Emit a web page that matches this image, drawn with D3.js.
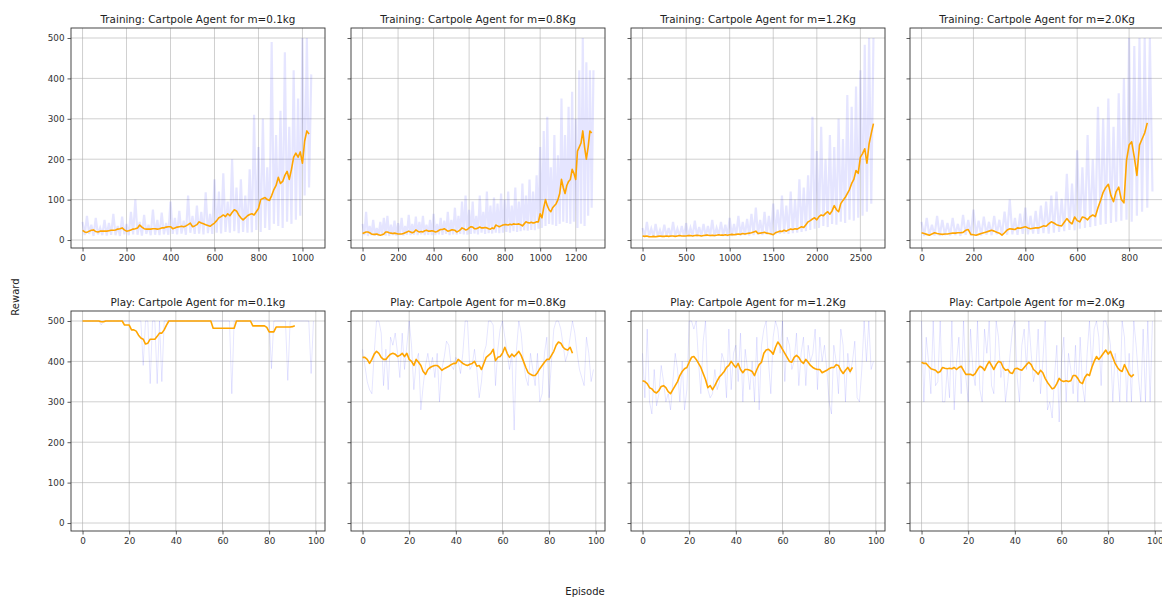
<!DOCTYPE html>
<html>
<head>
<meta charset="utf-8">
<script src="https://cdnjs.cloudflare.com/ajax/libs/d3/7.8.5/d3.min.js"></script>
<style>
  body { margin: 0; background: #fff; }
  svg { font-family: "DejaVu Sans", sans-serif; }
</style>
</head>
<body>
<div id="chart"></div>
<script>

// episode counts of every run (training) and play length
var trainEpisodes = [1050, 1300, 2650, 890];
var playEpisodes = 99;

// masses shown in the titles
var trainTitles = ["Training: Cartpole Agent for m=0.1kg", "Training: Cartpole Agent for m=0.8Kg",
                   "Training: Cartpole Agent for m=1.2Kg", "Training: Cartpole Agent for m=2.0Kg"];
var playTitles = ["Play: Cartpole Agent for m=0.1kg", "Play: Cartpole Agent for m=0.8Kg",
                  "Play: Cartpole Agent for m=1.2Kg", "Play: Cartpole Agent for m=2.0Kg"];

// x ticks
var trainTicks = [[0, 200, 400, 600, 800, 1000], [0, 200, 400, 600, 800, 1000, 1200],
                  [0, 500, 1000, 1500, 2000, 2500], [0, 200, 400, 600, 800]];
var playTicks = [0, 20, 40, 60, 80, 100];
var rewardTicks = [0, 100, 200, 300, 400, 500];

// episode spacing of the sampled values
var trainRawStep = [10, 10, 25, 10];
var trainAvgStep = [10, 10, 25, 10];

// training: raw rewards (sampled) and moving average
var trainRaw1 = [45,12,60,15,38,10,55,14,30,12,50,11,42,13,65,12,35,10,58,14,
  40,12,70,14,100,13,45,11,62,15,38,12,75,13,50,12,68,14,42,13,
  95,15,55,14,72,16,48,13,110,18,60,15,85,16,70,14,118,17,65,15,
  150,18,120,16,165,20,95,18,200,22,130,17,150,20,110,18,175,19,310,25,
  230,20,300,30,180,25,490,40,260,35,320,30,465,45,280,40,420,50,350,60,
  500,110,500,130,410];
var trainAvg1 = [24,20,19,22,24,25,21,20,22,22,
  22,22,23,24,24,25,27,28,30,25,
  22,23,25,27,28,30,37,32,28,27,
  27,27,28,28,27,28,30,30,32,33,
  33,28,30,32,33,34,33,35,38,42,
  33,35,38,45,42,40,38,36,34,38,
  42,48,55,58,62,58,65,60,68,75,
  72,62,55,50,55,60,63,65,62,70,
  78,100,103,105,100,98,110,125,135,155,
  140,145,160,170,150,175,205,215,205,218,
  190,245,270,262];

var trainRaw2 = [40,12,70,10,35,12,50,11,30,10,45,12,55,11,60,10,38,12,48,11,
  42,12,55,11,35,13,62,12,40,13,58,12,45,14,60,12,38,13,50,12,
  65,12,40,14,55,13,48,15,70,12,50,14,80,13,60,15,95,14,110,13,
  75,15,95,16,60,14,110,18,70,15,120,17,85,16,105,18,90,17,115,18,
  100,20,120,18,85,22,130,20,95,22,140,24,110,23,150,25,120,24,160,28,
  230,30,270,35,305,40,180,38,260,35,210,40,350,45,260,42,330,40,367,45,
  300,30,420,40,500,35,440,60,420,80,420];
var trainAvg2 = [16,18,20,20,18,15,14,14,15,13,
  12,13,15,20,20,18,17,16,17,16,
  15,15,15,16,18,20,22,20,18,20,
  25,22,20,21,20,23,24,22,22,23,
  22,20,21,24,26,26,28,25,22,23,
  25,25,24,20,22,25,30,28,25,26,
  30,33,32,28,28,30,32,30,30,31,
  30,28,27,30,28,37,35,33,35,37,
  38,38,37,39,38,40,39,39,40,38,
  35,40,45,43,42,44,42,43,45,45,
  65,55,80,100,85,75,70,80,85,90,
  100,115,150,130,115,135,145,150,175,165,
  150,220,230,240,270,230,200,230,270,265];

var trainRaw3 = [30,8,45,9,28,8,40,9,25,8,
  38,9,30,8,45,10,28,9,35,8,
  42,9,30,10,48,9,32,10,40,9,
  35,10,50,9,30,11,45,10,38,9,
  55,10,40,12,60,11,45,12,52,11,
  65,12,80,13,50,12,70,14,60,12,
  90,14,75,15,110,16,85,15,120,17,
  100,18,150,20,130,22,160,25,305,28,
  220,30,280,35,200,32,260,40,230,38,
  300,45,250,42,359,50,330,48,380,55,
  420,60,483,70,500,90,500];
var trainAvg3 = [10,9,10,8,8,9,8,9,10,9,
  9,10,9,10,10,9,10,11,10,10,
  10,11,11,10,11,12,11,10,11,12,
  12,11,12,11,12,13,12,12,13,12,
  13,14,13,14,15,14,16,15,16,17,
  18,20,22,16,17,18,19,17,16,15,
  13,18,20,22,21,24,22,25,27,26,
  28,27,30,33,31,38,45,48,52,55,
  50,58,62,60,66,70,64,72,85,75,
  70,90,98,105,115,125,140,150,172,165,
  205,214,226,190,238,264,288];

var trainRaw4 = [45,10,55,12,38,11,60,10,50,12,
  42,11,55,12,40,10,62,13,50,11,
  75,12,48,11,58,13,45,12,60,14,
  50,12,70,13,100,14,55,13,65,15,
  80,14,60,16,72,15,85,17,95,16,
  110,18,120,20,102,22,164,25,140,24,
  222,28,180,30,260,32,200,35,330,38,
  300,40,350,42,280,45,363,48,400,50,
  500,45,480,60,500,70,500,80,500,120];
var trainAvg4 = [18,16,14,12,15,18,16,15,14,15,
  15,16,17,17,18,18,19,24,26,14,
  13,12,14,16,18,20,22,24,22,19,
  17,12,18,25,28,27,26,30,29,31,
  33,30,28,29,30,30,32,35,34,40,
  45,42,38,36,35,44,53,45,40,57,
  48,45,57,55,50,58,62,58,80,98,
  118,130,138,110,95,120,131,100,92,197,
  235,243,205,160,235,250,265,290];

// play: raw rewards per episode and moving average
var playRaw1 = [500,500,500,500,500,500,500,500,490,500,
  500,500,500,500,500,500,500,500,500,500,
  500,500,500,500,500,500,390,500,500,345,
  500,500,345,500,350,500,500,500,500,500,
  500,500,500,500,500,500,500,500,500,500,
  500,500,500,500,500,500,500,500,500,500,
  500,500,500,500,320,500,500,500,500,500,
  500,500,500,500,500,500,500,500,500,500,
  500,382,500,500,500,500,500,500,353,500,
  500,500,500,500,500,500,500,500,370,500];
var playAvg1 = [500,500,500,500,500,500,500,500,498,498,
  500,500,500,500,500,500,500,500,490,490,
  490,478,478,475,465,458,455,443,445,455,
  455,455,462,470,470,478,490,500,500,500,
  500,500,500,500,500,500,500,500,500,500,
  500,500,500,500,500,500,482,482,482,482,
  482,482,482,482,482,482,500,500,500,500,
  500,500,500,488,488,488,488,488,488,484,
  473,473,473,485,485,485,485,485,485,485,
  486,488];

var playRaw2 = [430,390,350,330,320,420,500,500,470,340,
  430,330,460,440,470,420,360,470,380,440,
  500,440,330,400,420,280,340,390,420,380,
  410,360,420,300,380,410,450,440,390,380,
  410,400,370,420,500,500,380,390,430,380,
  310,350,420,440,500,500,490,340,430,480,
  500,460,420,380,420,230,430,500,470,400,
  360,340,420,380,340,420,300,320,420,460,
  310,400,480,500,500,480,440,400,420,460,
  500,470,420,380,360,340,460,420,350,380];
var playAvg2 = [410,410,405,395,405,418,425,420,410,405,
  405,412,418,420,418,412,415,420,412,420,
  405,400,390,405,398,390,375,368,380,385,
  388,390,390,385,378,382,385,388,392,395,
  395,405,400,395,392,390,393,395,400,388,
  390,380,395,410,415,420,430,402,410,412,
  420,435,420,410,418,412,418,425,415,400,
  385,372,368,365,365,372,382,390,398,405,
  405,415,425,440,448,445,435,430,428,435,
  420];

var playRaw3 = [420,310,480,300,270,380,290,320,390,350,
  300,320,280,350,420,380,300,400,280,330,
  500,500,480,500,400,320,450,500,330,310,
  320,380,330,350,420,400,310,480,330,420,
  440,350,470,300,430,380,330,400,300,460,
  280,440,480,500,400,320,460,500,480,420,
  500,350,460,440,380,400,470,340,420,460,
  340,440,400,420,480,330,460,400,440,380,
  300,270,440,400,320,480,440,300,420,370,
  400,450,310,300,380,500,400,500,380,400];
var playAvg3 = [352,350,345,335,332,325,322,328,338,340,
  335,325,320,330,340,350,365,375,382,385,
  398,410,412,405,395,385,370,355,335,340,
  330,340,352,362,368,375,385,390,400,392,
  385,395,380,372,380,380,378,375,365,380,
  392,398,420,428,430,425,418,435,448,440,
  430,420,410,400,398,410,415,410,400,395,
  405,398,390,385,382,380,380,372,375,378,
  382,385,385,392,390,378,370,378,385,375,
  385];

var playRaw4 = [500,300,460,400,320,500,340,350,500,300,
  300,380,310,500,280,400,460,320,500,360,
  300,480,380,340,500,330,300,480,420,500,
  340,320,500,460,360,400,300,350,420,480,
  500,360,300,440,480,380,500,420,350,380,
  480,320,400,500,280,300,260,360,440,250,
  400,460,300,420,380,320,440,300,460,340,
  300,420,500,380,480,500,460,340,500,500,
  480,440,300,420,380,300,500,460,300,420,
  300,500,440,360,300,480,300,500,300,500];
var playAvg4 = [398,395,395,388,382,380,378,372,375,385,
  383,382,383,382,385,380,385,388,378,368,
  368,368,365,370,380,388,385,378,390,400,
  390,380,392,400,398,385,378,380,372,370,
  382,383,380,378,385,392,398,392,380,375,
  368,378,372,358,348,340,332,335,345,358,
  352,350,352,350,352,365,365,358,348,345,
  360,368,365,385,400,412,405,412,420,428,
  418,425,410,395,385,378,375,392,380,368,
  362,368];

var trainRaw = [trainRaw1, trainRaw2, trainRaw3, trainRaw4];
var trainAvg = [trainAvg1, trainAvg2, trainAvg3, trainAvg4];
var playRaw = [playRaw1, playRaw2, playRaw3, playRaw4];
var playAvg = [playAvg1, playAvg2, playAvg3, playAvg4];

// layout
var width = 1162, height = 597;
var colLeft = [71, 351, 631, 910];
var rowTop = [28, 311];
var plotW = 254, plotH = 220;

var svg = d3.select("#chart").append("svg")
            .attr("width", width)
            .attr("height", height)
            .style("background", "#fff");

// shared y scale for all panels
var y = d3.scaleLinear()
          .domain([-19.75, 524.75])
          .range([plotH, 0]);

function toPoints(values, step) {
  return values.map(function(v, i) { return [i * step, v]; });
}

function drawPanel(row, col, title, n, ticks, raw, rawStep, avg, avgStep, rawWidth) {
  var g = svg.append("g")
             .attr("transform", "translate(" + colLeft[col] + "," + rowTop[row] + ")");

  var x = d3.scaleLinear()
            .domain([-0.05 * n, 1.05 * n])
            .range([0, plotW]);

  // grid
  g.append("g").selectAll("line")
    .data(ticks).enter().append("line")
    .attr("x1", function(d) { return x(d); })
    .attr("x2", function(d) { return x(d); })
    .attr("y1", 0).attr("y2", plotH)
    .style("stroke", "#b0b0b0").style("stroke-width", 0.8).style("stroke-opacity", 0.75);
  g.append("g").selectAll("line")
    .data(rewardTicks).enter().append("line")
    .attr("y1", function(d) { return y(d); })
    .attr("y2", function(d) { return y(d); })
    .attr("x1", 0).attr("x2", plotW)
    .style("stroke", "#b0b0b0").style("stroke-width", 0.8).style("stroke-opacity", 0.75);

  var line = d3.line()
               .x(function(d) { return x(d[0]); })
               .y(function(d) { return y(d[1]); });

  // raw rewards
  g.append("path")
    .datum(toPoints(raw, rawStep))
    .attr("d", line)
    .style("fill", "none")
    .style("stroke", "#0000ff")
    .style("stroke-opacity", 0.1)
    .style("stroke-width", rawWidth);

  // moving average
  g.append("path")
    .datum(toPoints(avg, avgStep))
    .attr("d", line)
    .style("fill", "none")
    .style("stroke", "#ffa500")
    .style("stroke-width", 1.6)
    .style("stroke-linejoin", "round");

  // frame
  g.append("rect")
    .attr("width", plotW).attr("height", plotH)
    .style("fill", "none").style("stroke", "#333").style("stroke-width", 0.9);

  // axes
  var xAxis = g.append("g")
               .attr("transform", "translate(0," + plotH + ")")
               .call(d3.axisBottom(x).tickValues(ticks).tickSize(3.5).tickPadding(3)
                 .tickFormat(d3.format("d")));
  var yAxis = g.append("g")
               .call(d3.axisLeft(y).tickValues(rewardTicks).tickSize(3.5).tickPadding(3)
                 .tickFormat(col === 0 ? d3.format("d") : function() { return ""; }));

  [xAxis, yAxis].forEach(function(a) {
    a.select(".domain").remove();
    a.selectAll(".tick line").style("stroke", "#333").style("stroke-width", 0.8);
    a.selectAll("text")
      .style("font-family", "DejaVu Sans, sans-serif")
      .style("font-size", "8.8px")
      .style("fill", "#333");
  });

  // title
  g.append("text")
    .attr("x", plotW / 2)
    .attr("y", -5)
    .attr("text-anchor", "middle")
    .style("font-size", "10.4px")
    .style("fill", "#222")
    .text(title);
}

for (var c = 0; c < 4; c++) {
  drawPanel(0, c, trainTitles[c], trainEpisodes[c], trainTicks[c],
            trainRaw[c], trainRawStep[c], trainAvg[c], trainAvgStep[c], 2.2);
  drawPanel(1, c, playTitles[c], playEpisodes, playTicks,
            playRaw[c], 1, playAvg[c], 1, 1);
}

// shared labels
svg.append("text")
   .attr("transform", "translate(19,297) rotate(-90)")
   .attr("text-anchor", "middle")
   .style("font-size", "10px")
   .style("fill", "#222")
   .text("Reward");

svg.append("text")
   .attr("x", 585)
   .attr("y", 595)
   .attr("text-anchor", "middle")
   .style("font-size", "10px")
   .style("fill", "#222")
   .text("Episode");

</script>
</body>
</html>
